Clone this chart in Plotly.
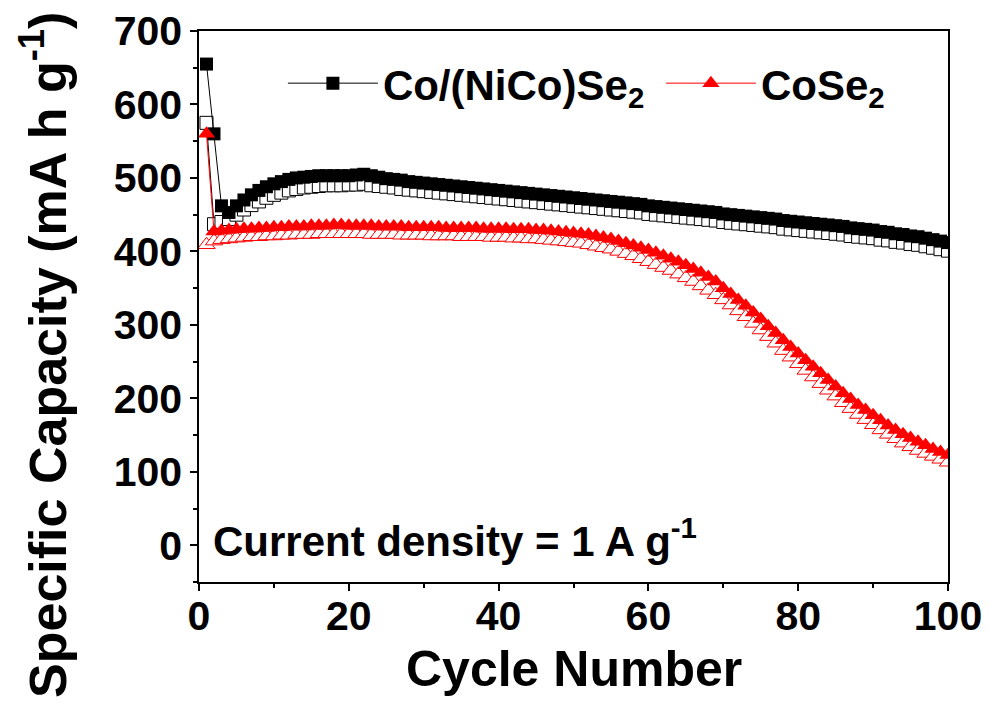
import plotly.graph_objects as go

# Cycle index
cycles = list(range(1, 101))

# Co/(NiCo)Se2 — discharge (filled) and charge (open) capacities, mA h g^-1
conico_discharge = [
    655, 560, 462, 453, 462, 470, 477, 483, 488, 492,
    495, 498, 500, 501, 502, 503, 503, 503, 503, 503,
    504, 505, 503, 501, 499, 498, 497, 495, 494, 493,
    492, 491, 490, 489, 488, 487, 486, 485, 484, 483,
    482, 481, 480, 479, 478, 477, 476, 475, 474, 473,
    472, 471, 470, 469, 468, 467, 466, 465, 464, 462,
    461, 460, 459, 458, 457, 456, 455, 454, 453, 451,
    450, 449, 448, 447, 446, 445, 444, 442, 441, 440,
    439, 438, 437, 436, 435, 434, 432, 431, 430, 429,
    427, 426, 424, 423, 421, 420, 418, 416, 414, 412,
]
conico_charge = [
    575, 437, 440, 444, 450, 457, 463, 468, 473, 477,
    480, 483, 485, 487, 488, 489, 490, 490, 490, 491,
    491, 492, 490, 489, 488, 487, 485, 484, 483, 482,
    481, 480, 479, 478, 477, 476, 475, 474, 473, 472,
    471, 470, 469, 468, 467, 466, 465, 464, 463, 462,
    461, 460, 459, 458, 457, 456, 455, 454, 453, 451,
    450, 449, 448, 447, 446, 445, 444, 443, 442, 440,
    439, 438, 437, 436, 435, 434, 433, 431, 430, 429,
    428, 427, 426, 425, 424, 423, 421, 420, 419, 418,
    416, 415, 413, 412, 410, 409, 407, 405, 403, 401,
]

# CoSe2 — discharge (filled) and charge (open) capacities, mA h g^-1
cose2_discharge = [
    560, 427, 428, 429, 430, 431, 431, 432, 432, 433,
    433, 434, 434, 434, 435, 435, 435, 436, 436, 435,
    435, 435, 435, 434, 434, 434, 434, 433, 433, 433,
    433, 433, 432, 432, 432, 432, 432, 431, 431, 431,
    431, 430, 430, 430, 429, 429, 428, 427, 426, 425,
    424, 423, 421, 419, 417, 414, 411, 408, 405, 402,
    398, 394, 390, 386, 381, 376, 371, 365, 359, 350,
    342, 334, 326, 317, 308, 298, 289, 279, 270, 261,
    252, 243, 234, 225, 216, 207, 199, 191, 184, 177,
    170, 163, 157, 151, 146, 141, 136, 131, 127, 123,
]
cose2_charge = [
    409, 414, 416, 417, 418, 419, 420, 420, 421, 421,
    422, 422, 423, 423, 423, 424, 424, 424, 424, 424,
    424, 424, 423, 423, 423, 423, 422, 422, 422, 422,
    421, 421, 421, 421, 420, 420, 420, 420, 419, 419,
    419, 418, 418, 417, 417, 416, 415, 414, 413, 412,
    411, 409, 407, 405, 403, 400, 397, 394, 390, 386,
    382, 378, 374, 369, 364, 359, 353, 347, 341, 334,
    327, 319, 311, 302, 293, 284, 275, 265, 256, 247,
    238, 229, 220, 211, 203, 194, 186, 178, 171, 164,
    157, 151, 145, 139, 134, 129, 125, 121, 117, 113,
]

x_ticks = [0, 20, 40, 60, 80, 100]
y_ticks = [0, 100, 200, 300, 400, 500, 600, 700]

FONT = "Liberation Sans, Arial, sans-serif"
BLACK = "#000000"
RED = "#ff0000"

fig = go.Figure()

fig.add_trace(go.Scatter(
    x=cycles, y=conico_charge, mode="lines+markers", showlegend=False,
    line=dict(color=BLACK, width=1),
    marker=dict(symbol="square", size=13, color="white",
                line=dict(color=BLACK, width=1)),
))
fig.add_trace(go.Scatter(
    x=cycles, y=conico_discharge, mode="lines+markers",
    name="Co/(NiCo)Se<sub>2</sub>\u00a0",
    line=dict(color=BLACK, width=1),
    marker=dict(symbol="square", size=13, color=BLACK,
                line=dict(color=BLACK, width=0)),
))
fig.add_trace(go.Scatter(
    x=cycles, y=cose2_charge, mode="lines+markers", showlegend=False,
    line=dict(color=RED, width=1),
    marker=dict(symbol="triangle-up", size=15, color="white",
                line=dict(color=RED, width=1)),
))
fig.add_trace(go.Scatter(
    x=cycles, y=cose2_discharge, mode="lines+markers",
    name="CoSe<sub>2</sub>",
    line=dict(color=RED, width=1),
    marker=dict(symbol="triangle-up", size=15, color=RED,
                line=dict(color=RED, width=0)),
))

axis_common = dict(
    showgrid=False, zeroline=False, showline=True, linecolor=BLACK,
    linewidth=1.5, mirror=True, ticks="outside", ticklen=7, tickwidth=1.5,
    tickcolor=BLACK, automargin=False,
    tickfont=dict(family=FONT, size=41, color=BLACK, weight="bold"),
)

fig.update_xaxes(
    range=[0, 100], tickvals=x_ticks, ticktext=[str(v) for v in x_ticks],
    ticklabelstandoff=-10,
    minor=dict(dtick=10, ticks="outside", ticklen=4, tickwidth=1.5, tickcolor=BLACK),
    **axis_common,
)
fig.update_yaxes(
    range=[-50, 700], tickvals=y_ticks, ticktext=[str(v) for v in y_ticks],
    minor=dict(dtick=50, ticks="outside", ticklen=4, tickwidth=1.5, tickcolor=BLACK),
    **axis_common,
)

# Axis titles
fig.add_annotation(
    text="Cycle Number",
    xref="paper", yref="paper", x=0.5, y=-0.158,
    xanchor="center", yanchor="middle", showarrow=False,
    font=dict(family=FONT, size=50, color=BLACK, weight="bold"),
)
fig.add_annotation(
    text="Specific Capacity (mA h g<sup>-1</sup>)", textangle=-90,
    xref="paper", yref="paper", x=-0.207, y=0.412,
    xanchor="center", yanchor="middle", showarrow=False,
    font=dict(family=FONT, size=52, color=BLACK, weight="bold"),
)
fig.add_annotation(
    text="Current density = 1 A g<sup>-1</sup>",
    xref="paper", yref="y", x=0.016, y=10,
    xanchor="left", yanchor="middle", showarrow=False,
    font=dict(family=FONT, size=42, color=BLACK, weight="bold"),
)

fig.update_layout(
    width=989, height=705,
    margin=dict(l=199, r=41, t=31, b=123),
    paper_bgcolor="white", plot_bgcolor="white",
    font=dict(family=FONT, color=BLACK),
    legend=dict(
        orientation="h", x=0.112, y=0.905, xanchor="left", yanchor="middle",
        bgcolor="rgba(0,0,0,0)", itemwidth=90,
        font=dict(family=FONT, size=42, color=BLACK, weight="bold"),
    ),
)

fig.write_html("out.html")
